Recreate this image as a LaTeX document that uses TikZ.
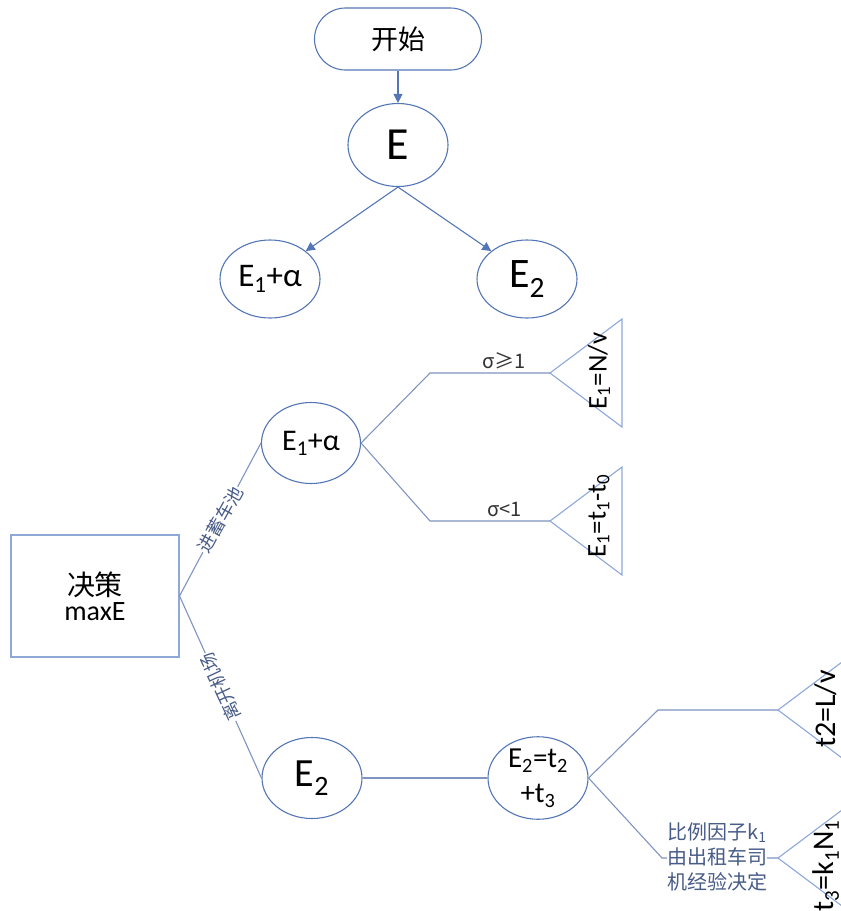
\documentclass[tikz,border=0pt]{standalone}
\usepackage{fontspec}
\setmainfont{Carlito}
\newfontfamily\cjk{Noto Sans CJK SC}
\usetikzlibrary{shapes.geometric, arrows.meta, positioning}
\definecolor{nodeblue}{RGB}{84,118,182}
\definecolor{linegray}{RGB}{128,148,192}
\definecolor{triblue}{RGB}{143,168,216}
\definecolor{labelblue}{RGB}{72,92,136}

\tikzset{
  oval/.style={ellipse, draw=nodeblue, line width=1.1pt, minimum width=100pt, minimum height=80pt, inner sep=0pt},
  startbox/.style={draw=nodeblue, line width=1.1pt, rounded corners=31pt, minimum width=167pt, minimum height=62pt, font=\cjk\fontsize{27}{30}\selectfont},
  decbox/.style={draw=triblue, line width=1.1pt, minimum width=168pt, minimum height=122pt, align=center},
  flow/.style={draw=nodeblue, line width=1.1pt, ->},
  link/.style={draw=linegray, line width=1.1pt},
  tri/.style={draw=triblue, line width=1.1pt},
  pathlabel/.style={font=\cjk\fontsize{18}{18}\selectfont, text=labelblue, fill=white, inner sep=1pt},
  condlabel/.style={font=\cjk\fontsize{20}{20}\selectfont, text=black!80},
  leaf/.style={rotate=90},
}

\begin{document}
\begin{tikzpicture}[x=1pt, y=-1pt, >={Triangle[width=9pt,length=9pt]}]
    \useasboundingbox (0,0) rectangle (841,911);
    \clip (0,0) rectangle (841,911);

    \node[startbox] (start) at (398,39) {开始};
    \node[oval, minimum height=83pt, font=\fontsize{46}{46}\selectfont] (E) at (398,145) {E};
    \node[oval, minimum height=78pt, font=\fontsize{33}{33}\selectfont] (E1top) at (270,279) {E\textsubscript{1}+α};
    \node[oval, minimum height=78pt, font=\fontsize{42}{42}\selectfont] (E2top) at (527,279) {E\textsubscript{2}};
    \draw[flow] (start) -- (E);
    \draw[flow] (E.south) -- (E1top.north east);
    \draw[flow] (E.south) -- (E2top.north west);

    \node[decbox] (decide) at (95,596) {{\cjk\fontsize{28}{30}\selectfont 决策}\\[4pt]{\fontsize{28}{28}\selectfont maxE}};
    \node[oval, minimum width=99pt, minimum height=81pt, font=\fontsize{30}{30}\selectfont] (E1) at (311,443) {E\textsubscript{1}+α};
    \node[oval, minimum height=81pt, font=\fontsize{40}{40}\selectfont] (E2) at (312,778) {E\textsubscript{2}};
    \node[oval, minimum height=82pt, align=center, font=\fontsize{29}{35}\selectfont] (E2sum) at (538,778) {E\textsubscript{2}=t\textsubscript{2}\\+t\textsubscript{3}};
    \draw[link] (decide.east) -- node[pathlabel, rotate=61] {进蓄车池} (E1.west);
    \draw[link] (decide.east) -- node[pathlabel, rotate=115] {离开机场} (E2.west);
    \draw[link] (E2) -- (E2sum);

    \coordinate (bendA) at (430,373);
    \coordinate (tipA) at (550,373);
    \coordinate (bendB) at (430,521);
    \coordinate (tipB) at (550,521);
    \draw[link] (E1.east) -- (bendA) -- node[condlabel, above, pos=0.62] {σ≥1} (tipA);
    \draw[link] (E1.east) -- (bendB) -- node[condlabel, above, pos=0.62] {σ<1} (tipB);
    \draw[tri] (tipA) -- ++(72,-54) -- ++(0,108) -- cycle;
    \draw[tri] (tipB) -- ++(72,-54) -- ++(0,108) -- cycle;
    \node[leaf, font=\fontsize{27}{27}\selectfont] (leafA) at (599,371) {E\textsubscript{1}=N/v};
    \node[leaf, font=\fontsize{27}{27}\selectfont] (leafB) at (599,516) {E\textsubscript{1}=t\textsubscript{1}-t\textsubscript{0}};

    \coordinate (bendC) at (658,710);
    \coordinate (tipC) at (778,710);
    \coordinate (bendD) at (662,858);
    \coordinate (tipD) at (778,858);
    \draw[link] (E2sum.east) -- (bendC) -- (tipC);
    \draw[link] (E2sum.east) -- (bendD) -- (tipD);
    \node[pathlabel, font=\cjk\fontsize{20}{25}\selectfont, align=center, inner sep=0pt] (ratio) at (717,857) {比例因子k\textsubscript{1}\\由出租车司\\机经验决定};
    \draw[tri] (tipC) -- ++(72,-54) -- ++(0,108) -- cycle;
    \draw[tri] (tipD) -- ++(72,-54) -- ++(0,108) -- cycle;
    \node[leaf, font=\fontsize{30}{30}\selectfont] (leafC) at (826,709) {t2=L/v};
    \node[leaf, font=\fontsize{30}{30}\selectfont] (leafD) at (826,866) {t\textsubscript{3}=k\textsubscript{1}N\textsubscript{1}};
\end{tikzpicture}
\end{document}
